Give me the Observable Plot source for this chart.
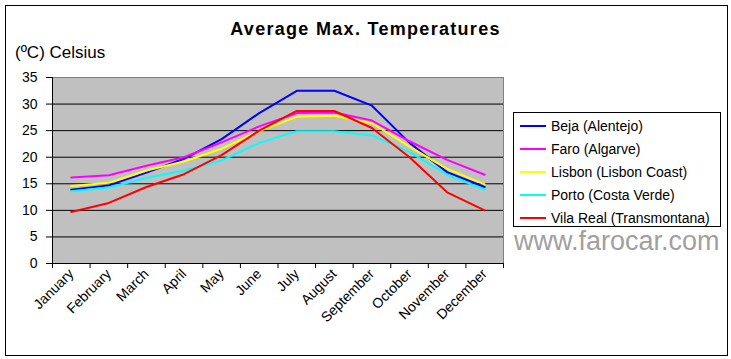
<!DOCTYPE html>
<html>
<head>
<meta charset="utf-8">
<script src="https://cdn.jsdelivr.net/npm/d3@7"></script>
<script src="https://cdn.jsdelivr.net/npm/@observablehq/plot@0.6"></script>
<style>
  html, body { margin: 0; padding: 0; background: #fff; }
  #wrap { position: relative; width: 731px; height: 359px; font-family: Arial, "Liberation Sans", sans-serif; }
  #border { position: absolute; left: 5px; top: 5px; width: 721px; height: 349px; border: 1px solid #000; pointer-events: none; }
  #chart { position: absolute; left: 0; top: 0; }
  #title { position: absolute; left: 0; width: 731px; top: 19px; text-align: center; font-weight: bold; font-size: 18px; letter-spacing: 1.3px; color: #000; }
  #unit { position: absolute; left: 15px; top: 43px; font-size: 17px; color: #000; }
  #legend { position: absolute; left: 513px; top: 112px; width: 206px; height: 113px; border: 1px solid #000; background: #fff; }
  .row { position: absolute; left: 6px; height: 20px; display: flex; align-items: center; font-size: 14px; white-space: nowrap; }
  .sw { width: 26px; height: 2px; margin-right: 5px; }
  #credit { position: absolute; left: 514px; top: 226px; font-size: 27px; color: #A0A0A0; }
</style>
</head>
<body>
<div id="wrap">
  <div id="chart"></div>
  <div id="border"></div>
  <div id="title">Average Max. Temperatures</div>
  <div id="unit">(ºC) Celsius</div>
  <div id="legend"></div>
  <div id="credit">www.farocar.com</div>
</div>
<script>
const months = ["January","February","March","April","May","June","July","August","September","October","November","December"];
const seriesNames = ["Beja (Alentejo)","Faro (Algarve)","Lisbon (Lisbon Coast)","Porto (Costa Verde)","Vila Real (Transmontana)"];
const seriesColors = ["#0000FF","#FF00FF","#FFFF00","#00FFFF","#FF0000"];
const beja     = [13.9, 14.7, 17.1, 19.7, 23.4, 28.3, 32.5, 32.5, 29.7, 22.7, 17.2, 14.4];
const faro     = [16.2, 16.6, 18.4, 20.0, 22.8, 25.8, 28.3, 28.4, 26.9, 23.0, 19.5, 16.7];
const lisbon   = [14.6, 15.2, 17.5, 19.2, 21.6, 24.9, 27.6, 27.8, 26.4, 22.0, 17.8, 14.9];
const porto    = [13.6, 14.3, 16.1, 17.5, 19.4, 22.7, 24.9, 24.9, 24.1, 21.0, 16.7, 13.9];
const vilaReal = [ 9.7, 11.4, 14.4, 16.8, 20.4, 25.0, 28.7, 28.7, 25.5, 20.0, 13.4, 10.0];
const yTicks = [0, 5, 10, 15, 20, 25, 30, 35];

const allSeries = [beja, faro, lisbon, porto, vilaReal];
const data = [];
allSeries.forEach((vals, s) => vals.forEach((v, i) => data.push({series: seriesNames[s], m: i + 0.5, v})));

const bounds = d3.range(months.length + 1);
const centres = months.map((_, i) => i + 0.5);

const chart = Plot.plot({
  width: 731, height: 359,
  marginLeft: 52, marginRight: 228, marginTop: 77, marginBottom: 96,
  style: {fontFamily: "Arial, 'Liberation Sans', sans-serif", fontSize: "13px", background: "transparent", color: "#000"},
  x: {type: "linear", domain: [0, months.length], axis: null},
  y: {domain: [0, 35], axis: null},
  color: {domain: seriesNames, range: seriesColors},
  marks: [
    Plot.frame({fill: "#C0C0C0", stroke: "#808080"}),
    Plot.ruleY(yTicks.filter(t => t > 0 && t < 35), {stroke: "#000", strokeWidth: 1}),
    Plot.line(data, {x: "m", y: "v", z: "series", stroke: "series", strokeWidth: 2}),
    Plot.ruleX([0], {stroke: "#000"}),
    Plot.ruleY([0], {stroke: "#000"}),
    Plot.axisY({ticks: yTicks, tickSize: 6, tickPadding: 9, fontSize: 14, label: null, tickFormat: d => String(d)}),
    Plot.axisX({ticks: bounds, tickSize: 5, tickFormat: () => "", label: null}),
    Plot.axisX({ticks: centres, tickSize: 0, tickPadding: 8, tickRotate: -45, fontSize: 14, label: null, tickFormat: d => months[Math.round(d - 0.5)]})
  ]
});
document.getElementById("chart").appendChild(chart);

const legend = document.getElementById("legend");
seriesNames.forEach((name, i) => {
  const row = document.createElement("div");
  row.className = "row";
  row.style.top = (3 + i * 23) + "px";
  const sw = document.createElement("div");
  sw.className = "sw";
  sw.style.background = seriesColors[i];
  const t = document.createElement("span");
  t.textContent = name;
  row.appendChild(sw); row.appendChild(t);
  legend.appendChild(row);
});
</script>
</body>
</html>
